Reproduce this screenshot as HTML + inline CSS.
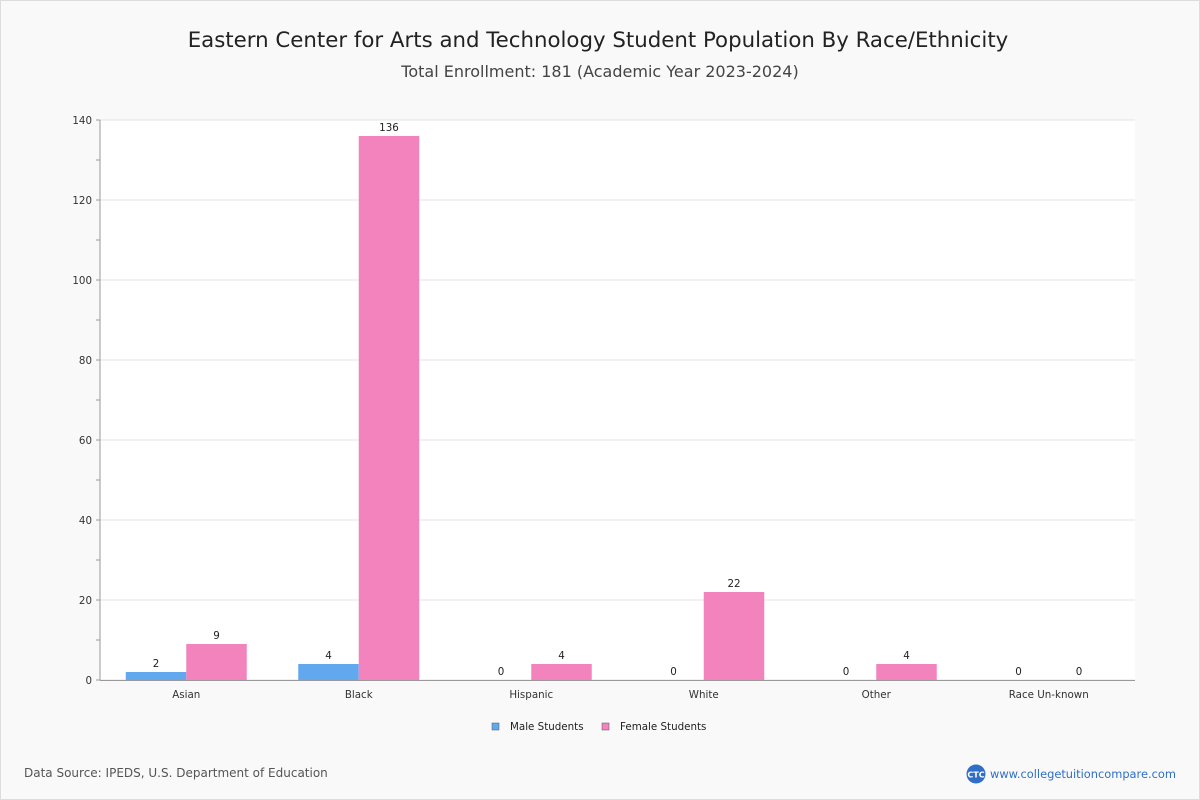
<!DOCTYPE html>
<html><head><meta charset="utf-8"><style>
body{margin:0;background:#fff;font-family:"DejaVu Sans","Liberation Sans",sans-serif;}
#wrap{position:relative;width:1198px;height:798px;border:1px solid #ddd;background:#f9f9f9;}
</style></head><body>
<div id="wrap">
<svg id="svg" width="1198" height="798" xmlns="http://www.w3.org/2000/svg" style="position:absolute;left:0;top:0">
<text x="597" y="46" text-anchor="middle" font-size="21.3" fill="#222">Eastern Center for Arts and Technology Student Population By Race/Ethnicity</text>
<text x="599" y="76" text-anchor="middle" font-size="16" fill="#444">Total Enrollment: 181 (Academic Year 2023-2024)</text>
<rect x="99" y="119" width="1035" height="560" fill="#fff"/>
<g id="grid"></g><g id="bars"></g><g id="axes"></g>
<g>
<rect x="491" y="722" width="7" height="7" fill="#62a8ee" stroke="#555" stroke-width="0.5"/>
<text x="509" y="729" font-size="10.3" fill="#222">Male Students</text>
<rect x="601" y="722" width="7" height="7" fill="#f283bc" stroke="#555" stroke-width="0.5"/>
<text x="619" y="729" font-size="10.3" fill="#222">Female Students</text>
</g>
<text x="23" y="776" font-size="12" fill="#555">Data Source: IPEDS, U.S. Department of Education</text>
<g>
<circle cx="975" cy="773" r="9.5" fill="#2f6fc8"/>
<text x="975" y="776.5" text-anchor="middle" font-size="8" font-weight="bold" fill="#fff">CTC</text>
<text x="989" y="777" font-size="11.4" fill="#2f6fc8">www.collegetuitioncompare.com</text>
</g>
</svg>
</div>
<script>
const categories=["Asian","Black","Hispanic","White","Other","Race Un-known"];
const maleValues=[2,4,0,0,0,0];
const femaleValues=[9,136,4,22,4,0];
const yTicks=[0,20,40,60,80,100,120,140];
const NS="http://www.w3.org/2000/svg";
const X0=99,X1=1134,Y0=679,Y1=119,YMAX=140;
const y=v=>Y0-(v/YMAX)*(Y0-Y1);
const bw=(X1-X0)/categories.length;
const xc=i=>X0+bw*(i+0.5);
function mk(t,a,p){const e=document.createElementNS(NS,t);for(const k in a)e.setAttribute(k,a[k]);p.appendChild(e);return e;}
const grid=document.getElementById('grid'),bars=document.getElementById('bars'),axes=document.getElementById('axes');
for(let v=0;v<=YMAX;v+=10){
 mk('line',{x1:X0-4,x2:X0,y1:y(v),y2:y(v),stroke:'#999'},axes);
}
yTicks.forEach(v=>{
 const l=mk('line',{x1:X0,x2:X1,y1:y(v),y2:y(v),stroke:'#e3e3e3'},grid);
 
 
 const t=mk('text',{x:X0-8,y:y(v)+4,'text-anchor':'end','font-size':10.3,fill:'#333'},axes);
 t.textContent=v;
 
 
});
mk('line',{x1:X0,x2:X0,y1:Y1,y2:Y0,stroke:'#999'},axes);
mk('line',{x1:X0,x2:X1,y1:Y0+0.5,y2:Y0+0.5,stroke:'#999'},axes);
const bwid=60.5;
categories.forEach((c,i)=>{
 const t=mk('text',{x:xc(i),y:697,'text-anchor':'middle','font-size':10.3,fill:'#333'},axes);
 t.textContent=c;
 
 
 [[maleValues[i],'#62a8ee',xc(i)-bwid,'male'],[femaleValues[i],'#f283bc',xc(i),'female']].forEach(([v,col,x,s])=>{
  const r=mk('rect',{x:x,y:y(v),width:bwid,height:Y0-y(v),fill:col},bars);
  
  
  const lt=mk('text',{x:x+bwid/2,y:y(v)-5,'text-anchor':'middle','font-size':10.3,fill:'#222'},bars);
  lt.textContent=v;
  
  
 });
});
</script>
</body></html>
